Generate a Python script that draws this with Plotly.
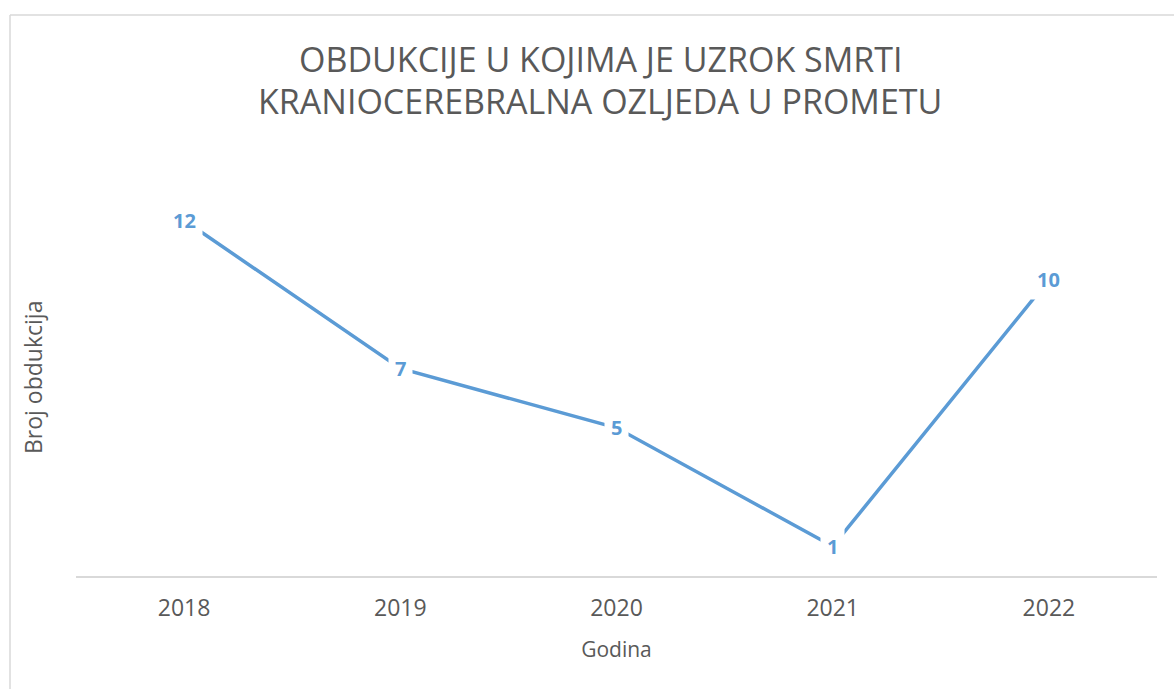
import plotly.graph_objects as go

years = ["2018", "2019", "2020", "2021", "2022"]
counts = [12, 7, 5, 1, 10]
title_lines = ["OBDUKCIJE U KOJIMA JE UZROK SMRTI", "KRANIOCEREBRALNA OZLJEDA U PROMETU"]
x_title = "Godina"
y_title = "Broj obdukcija"

BLUE = "#5B9BD5"
GREY = "#595959"
FONT = "Open Sans"

W, H = 1174, 689
# plot area in page pixels
PX0, PX1, PY0, PY1 = 76, 1157, 161, 576


def px_x(px):
    return (px - PX0) / (PX1 - PX0)


def px_y(py):
    return (PY1 - py) / (PY1 - PY0)


fig = go.Figure()
fig.add_trace(go.Scatter(
    x=years, y=counts, mode="lines",
    line=dict(color=BLUE, width=3.5),
    hoverinfo="skip", showlegend=False,
))

annotations = []
for i, v in enumerate(counts):
    annotations.append(dict(
        x=i, y=v, xref="x", yref="y", text=f"<b>{v}</b>", showarrow=False,
        font=dict(family=FONT, size=20, color=BLUE),
        bgcolor="white", borderpad=6, xanchor="center", yanchor="middle",
    ))

for i, line in enumerate(title_lines):
    py = 59 + 42 * i
    annotations.append(dict(
        x=px_x(600), y=px_y(py), xref="paper", yref="paper",
        text=line, showarrow=False, xanchor="center", yanchor="middle",
        font=dict(family=FONT, size=34, color=GREY),
    ))

annotations.append(dict(
    x=px_x(33), y=px_y(378), xref="paper", yref="paper",
    text=y_title, textangle=-90, showarrow=False,
    xanchor="center", yanchor="middle",
    font=dict(family=FONT, size=23, color=GREY),
))

border = dict(color="#d9d9d9", width=1.5)
fig.update_layout(
    width=W, height=H,
    margin=dict(l=PX0, r=W - PX1, t=PY0, b=H - PY1),
    paper_bgcolor="white", plot_bgcolor="white",
    annotations=annotations,
    xaxis=dict(
        type="category", range=[-0.5, 4.5],
        showline=True, linecolor="#d9d9d9", linewidth=1.5,
        showgrid=False, ticks="", zeroline=False,
        ticklabelstandoff=11,
        tickfont=dict(family=FONT, size=23, color=GREY),
        title=dict(text=x_title, font=dict(family=FONT, size=21, color=GREY), standoff=20),
    ),
    yaxis=dict(
        range=[0, 14], showticklabels=False, showgrid=False, zeroline=False,
        showline=False, ticks="",
    ),
    shapes=[
        dict(type="line", xref="paper", yref="paper",
             x0=px_x(10), x1=px_x(W), y0=px_y(15), y1=px_y(15), line=border),
        dict(type="line", xref="paper", yref="paper",
             x0=px_x(10), x1=px_x(10), y0=px_y(15), y1=px_y(H), line=border),
    ],
)

fig.write_html(
    "out.html",
    config={"displayModeBar": False},
    post_script="document.body.style.margin='0';"
                "document.documentElement.style.overflow='hidden';"
                "document.body.style.overflow='hidden';",
)
